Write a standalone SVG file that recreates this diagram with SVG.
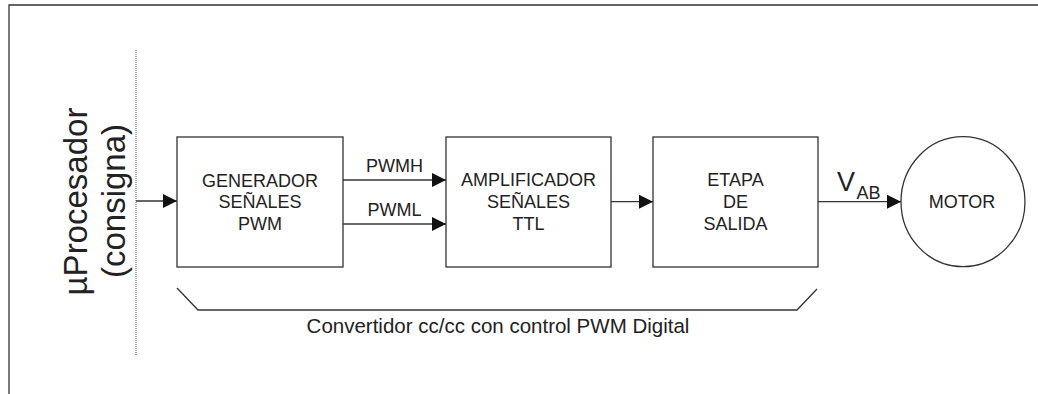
<svg xmlns="http://www.w3.org/2000/svg" width="1038" height="394" viewBox="0 0 1038 394">
<style>
  .ln { stroke: #333; stroke-width: 1.3; fill: none; }
  .box { stroke: #333; stroke-width: 1.3; fill: #fff; }
  .t { font-family: "Liberation Sans", Arial, sans-serif; fill: #222; text-anchor: middle; }
  .n { font-size: 18px; }
</style>
<defs>
  <marker id="arr" markerUnits="userSpaceOnUse" markerWidth="15" markerHeight="15" refX="14" refY="7" orient="auto">
    <path d="M0,0 L14,7 L0,14 z" fill="#111"/>
  </marker>
</defs>
<rect width="1038" height="394" fill="#fff"/>
<g id="frame">
  <path class="ln" d="M9,394 V5 H1038"/>
</g>
<g id="uprocesador">
  <line x1="136" y1="50" x2="136" y2="355" stroke="#555" stroke-width="1" stroke-dasharray="1 1"/>
  <text class="t" font-size="33" transform="translate(87,201.5) rotate(-90)">µProcesador</text>
  <text class="t" font-size="33" transform="translate(125,201) rotate(-90)">(consigna)</text>
</g>
<g id="generador">
  <rect class="box" x="177" y="137" width="166" height="130"/>
  <text class="t n" x="260" y="187">GENERADOR</text>
  <text class="t n" x="260" y="208">SEÑALES</text>
  <text class="t n" x="260" y="230">PWM</text>
</g>
<g id="amplificador">
  <rect class="box" x="446" y="137" width="165" height="130"/>
  <text class="t n" x="528.5" y="186">AMPLIFICADOR</text>
  <text class="t n" x="528.5" y="208">SEÑALES</text>
  <text class="t n" x="528.5" y="230">TTL</text>
</g>
<g id="etapa">
  <rect class="box" x="653" y="137" width="165" height="130"/>
  <text class="t n" x="735.5" y="186">ETAPA</text>
  <text class="t n" x="735.5" y="208">DE</text>
  <text class="t n" x="735.5" y="230">SALIDA</text>
</g>
<g id="motor">
  <ellipse class="box" cx="963" cy="201.7" rx="62" ry="65"/>
  <text class="t n" x="962" y="208">MOTOR</text>
</g>
<g id="connectors">
  <line class="ln" x1="136" y1="201" x2="177" y2="201" marker-end="url(#arr)"/>
  <line class="ln" x1="343" y1="180" x2="446" y2="180" marker-end="url(#arr)"/>
  <line class="ln" x1="343" y1="224" x2="446" y2="224" marker-end="url(#arr)"/>
  <line class="ln" x1="611" y1="201.7" x2="653" y2="201.7" marker-end="url(#arr)"/>
  <line class="ln" x1="818" y1="201.7" x2="901" y2="201.7" marker-end="url(#arr)"/>
  <text class="t n" x="394.5" y="172">PWMH</text>
  <text class="t n" x="394.5" y="216">PWML</text>
  <text class="t" font-size="27" x="837" y="191" style="text-anchor:start">V</text>
  <text class="t" font-size="18" x="856.5" y="199" style="text-anchor:start">AB</text>
</g>
<g id="bracket">
  <polyline class="ln" points="177,288 198,310 797,310 817,289"/>
  <text class="t" font-size="20.5" x="498" y="333">Convertidor cc/cc con control PWM Digital</text>
</g>
</svg>
